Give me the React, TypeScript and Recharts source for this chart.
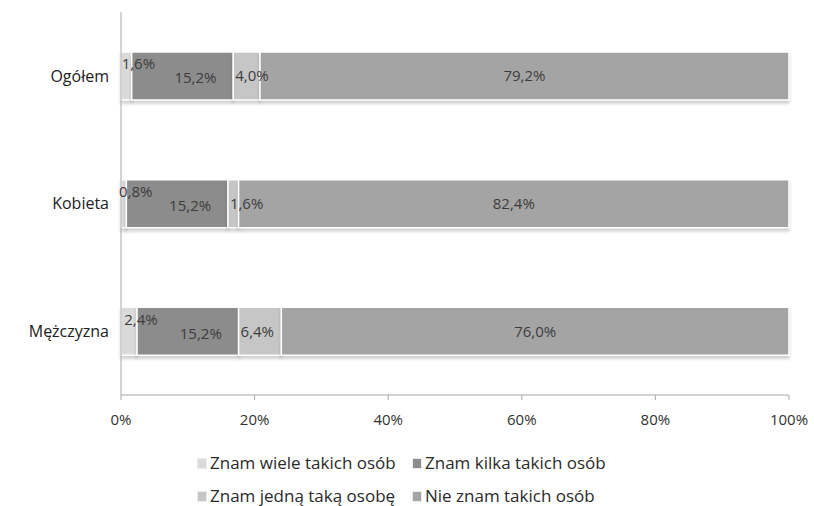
import React from 'react';
import { BarChart, Bar, XAxis, YAxis, Legend, LabelList } from 'recharts';

const groups = ['Ogółem', 'Kobieta', 'Mężczyzna'];
const znamWiele = [1.6, 0.8, 2.4];
const znamKilka = [15.2, 15.2, 15.2];
const znamJedna = [4.0, 1.6, 6.4];
const nieZnam = [79.2, 82.4, 76.0];
const xTicks = [0, 20, 40, 60, 80, 100];

const seriesDefs = [
    { key: 'wiele', name: 'Znam wiele takich osób', color: '#dadada' },
    { key: 'kilka', name: 'Znam kilka takich osób', color: '#8c8c8c' },
    { key: 'jedna', name: 'Znam jedną taką osobę', color: '#c6c6c6' },
    { key: 'nie', name: 'Nie znam takich osób', color: '#a4a4a4' },
];

const data = groups.map((g, i) => ({
    group: g,
    wiele: znamWiele[i],
    kilka: znamKilka[i],
    jedna: znamJedna[i],
    nie: nieZnam[i],
}));

const FONT = '"Open Sans", "Noto Sans", sans-serif';
const fmt = (v: number) => v.toFixed(1).replace('.', ',') + '%';

// label placement per series, roughly like the Excel original
const makeLabel = (mode: 'up' | 'shift' | 'start' | 'center') => (props: any) => {
    const { x, y, width, height, value } = props;
    let lx = x + width / 2;
    let ly = y + height / 2;
    let anchor: 'middle' | 'start' = 'middle';
    if (mode === 'up') {
        lx += 12;
        ly -= 12;
    } else if (mode === 'shift') {
        lx += 13;
        ly += 2;
    } else if (mode === 'start') {
        lx = x + 2;
        anchor = 'start';
    }
    return (
        <text x={lx} y={ly} dy="0.35em" textAnchor={anchor} fontSize={15} fill="#3c3c3c" fontFamily={FONT}>
            {fmt(value)}
        </text>
    );
};

const labelModes: ('up' | 'shift' | 'start' | 'center')[] = ['up', 'shift', 'start', 'center'];

const LegendGrid = () => (
    <div
        style={{
            display: 'grid',
            gridTemplateColumns: '215px 200px',
            rowGap: 13,
            marginLeft: 197,
            fontFamily: FONT,
            fontSize: 17,
            lineHeight: '20px',
            color: '#2a2a2a',
        }}
    >
        {seriesDefs.map((s) => (
            <div key={s.key} style={{ display: 'flex', alignItems: 'center', whiteSpace: 'nowrap' }}>
                <span
                    style={{
                        display: 'inline-block',
                        width: 8,
                        height: 9,
                        background: s.color,
                        border: '1px solid #eee',
                        marginRight: 3,
                    }}
                />
                {s.name}
            </div>
        ))}
    </div>
);

export default function App() {
    return (
        <div style={{ position: 'absolute', left: 0, top: 0, background: '#fff' }}>
            <BarChart
                width={814}
                height={506}
                data={data}
                layout="vertical"
                margin={{ top: 12, right: 25, left: 0, bottom: 81 }}
                barSize={48}
            >
                <XAxis
                    type="number"
                    domain={[0, 100]}
                    ticks={xTicks}
                    height={30}
                    tickFormatter={(v) => v + '%'}
                    axisLine={{ stroke: '#a8a8a8' }}
                    tickLine={{ stroke: '#a8a8a8' }}
                    tickSize={5}
                    tick={{ fontSize: 15, fill: '#333', fontFamily: FONT, dy: 12 }}
                />
                <YAxis
                    type="category"
                    dataKey="group"
                    width={121}
                    axisLine={{ stroke: '#a8a8a8' }}
                    tickLine={false}
                    tick={{ fontSize: 16, fill: '#222', fontFamily: FONT, dx: -4 }}
                />
                <Legend
                    layout="horizontal"
                    align="center"
                    verticalAlign="middle"
                    wrapperStyle={{ position: 'absolute', top: 453, left: 0, width: 814 }}
                    content={() => <LegendGrid />}
                />
                {seriesDefs.map((s, i) => (
                    <Bar
                        key={s.key}
                        dataKey={s.key}
                        name={s.name}
                        stackId="a"
                        fill={s.color}
                        stroke="#ffffff"
                        strokeWidth={1.5}
                        isAnimationActive={false}
                        style={{ filter: 'drop-shadow(0px 3px 1.5px rgba(0,0,0,0.18))' }}
                    >
                        <LabelList dataKey={s.key} content={makeLabel(labelModes[i])} />
                    </Bar>
                ))}
            </BarChart>
        </div>
    );
}
